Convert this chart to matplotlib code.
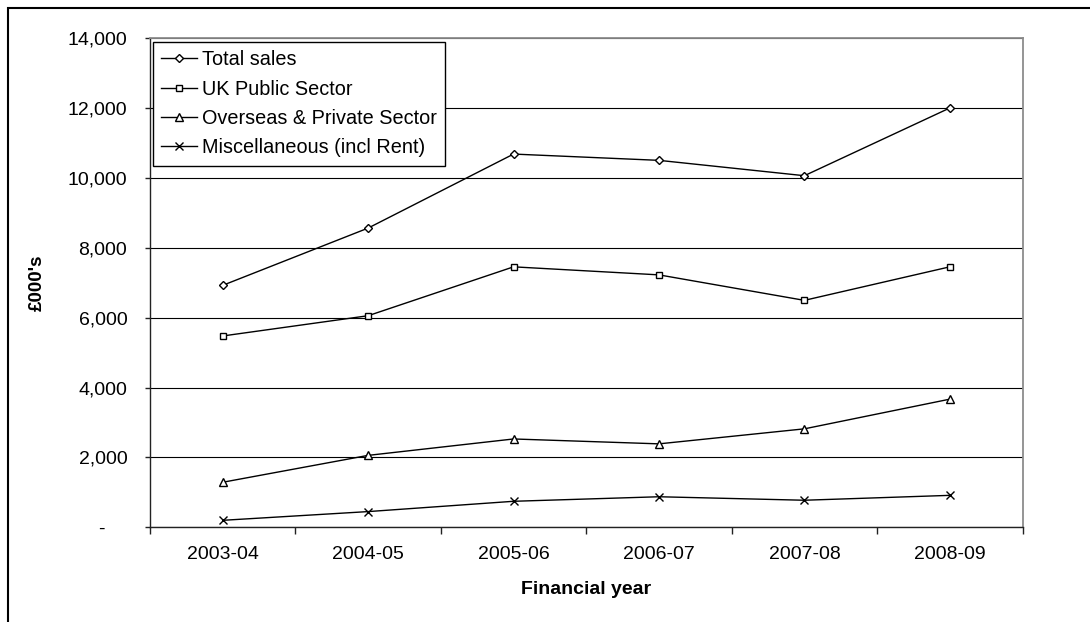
import numpy as np
import matplotlib
matplotlib.use('Agg')
import matplotlib.pyplot as plt
from matplotlib.ticker import FuncFormatter, FixedLocator
from matplotlib.patches import Rectangle

years = ['2003-04', '2004-05', '2005-06', '2006-07', '2007-08', '2008-09']
total_sales = [6930, 8570, 10690, 10510, 10070, 12010]
uk_public = [5480, 6060, 7460, 7230, 6500, 7460]
overseas_private = [1290, 2060, 2530, 2390, 2820, 3670]
misc = [200, 450, 745, 875, 775, 915]

plt.rcParams['font.family'] = ['Liberation Sans', 'DejaVu Sans']
plt.rcParams['font.size'] = 14

fig = plt.figure(figsize=(10.9, 6.22), dpi=100)
ax = fig.add_axes([150/1090, 1-527.3/622, 872.5/1090, 488.8/622])

x = np.arange(len(years))
ax.plot(x, total_sales, color='black', lw=1.0, marker='D', ms=4.2,
        mfc='white', mec='black', mew=1.0, label='Total sales')
ax.plot(x, uk_public, color='black', lw=1.0, marker='s', ms=5,
        mfc='white', mec='black', mew=1.0, label='UK Public Sector')
ax.plot(x, overseas_private, color='black', lw=1.0, marker='^', ms=5.5,
        mfc='white', mec='black', mew=1.0, label='Overseas & Private Sector')
ax.plot(x, misc, color='black', lw=1.0, marker='x', ms=5.5,
        mec='black', mew=1.0, label='Miscellaneous (incl Rent)')

ax.set_xlim(-0.5, len(years)-0.5)
ax.set_ylim(0, 14000)
ax.set_yticks(np.arange(0, 14001, 2000))
ax.yaxis.set_major_formatter(FuncFormatter(lambda v, p: '-    ' if v == 0 else '{:,.0f}'.format(v)))
ax.set_xticks(x)
ax.set_xticklabels(years)
ax.xaxis.set_minor_locator(FixedLocator(np.arange(-0.5, len(years), 1.0)))

ax.tick_params(axis='x', which='major', length=0, pad=13.5)
ax.tick_params(axis='x', which='minor', length=5, width=1, direction='out', color='#222222')
ax.tick_params(axis='y', length=3.8, width=1, direction='out', pad=12.5, color='#222222')

ax.yaxis.grid(True, color='black', lw=0.8)
ax.set_axisbelow(True)
for s in ['left', 'bottom']:
    ax.spines[s].set_color('#222222')
    ax.spines[s].set_linewidth(1.0)
for s in ['top', 'right']:
    ax.spines[s].set_color('#8c8c8c')
    ax.spines[s].set_linewidth(1.3)

ax.set_ylabel("£000's", fontweight='bold', fontsize=13.5, va='center')
ax.yaxis.set_label_coords((37.5-150)/872.5, 0.5)
ax.set_xlabel('Financial year', fontweight='bold', fontsize=14, va='center')
ax.xaxis.set_label_coords(0.5, (527.3-590)/488.8)

leg = ax.legend(loc='upper left', bbox_to_anchor=(3/872.5, (527.3-42)/488.8),
                borderaxespad=0, fancybox=False, frameon=True, edgecolor='black',
                fontsize=14.3, handlelength=1.8, handletextpad=0.25,
                labelspacing=0.52, borderpad=0.42, framealpha=1)
leg.get_frame().set_linewidth(1.0)

# outer chart border (only left and top show in the crop)
fig.patches.append(Rectangle((7.5/1090, -0.1), 1.2, (622-7.5)/622 + 0.1,
                             transform=fig.transFigure, fill=False,
                             edgecolor='black', lw=1.5))

fig.savefig('out.png', dpi=100)
